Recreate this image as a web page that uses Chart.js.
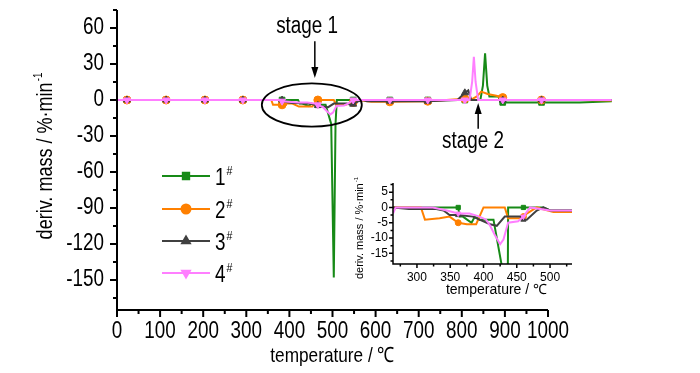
<!DOCTYPE html>
<html>
<head>
<meta charset="utf-8">
<script src="https://cdn.jsdelivr.net/npm/chart.js@4/dist/chart.umd.min.js"></script>
<style>
  html, body { margin: 0; padding: 0; background: #fff; }
  #wrap { position: relative; width: 700px; height: 373px; }
  #main { position: absolute; left: 0; top: 0; }
  #inset { position: absolute; left: 340px; top: 170px; }
</style>
</head>
<body>
<div id="wrap">
  <canvas id="main" width="700" height="373"></canvas>
  <canvas id="inset" width="260" height="130"></canvas>
</div>
<script>
// ---------------- DATA (main panel) ----------------
const seriesNames = ['1', '2', '3', '4'];
const mainMarkerTemps = [23, 114, 204, 292, 383, 466, 548, 633, 721, 807, 895, 985, 1074];

const t1 = [0, 23, 114, 204, 292, 383, 420, 424, 430, 445, 451, 460, 466, 484, 497, 503, 507, 510, 548, 633, 721, 807, 843, 849, 854, 859, 864, 885, 890, 895, 985, 1074, 1148];
const v1 = [0, 0, 0, 0, 0, 0, 0, -3, -3, -5, -3, -4, -4, -4, -20, -148, -20, 0, 0, 0, 0, 0, 0, 12, 39, 12, 3, 3, -2, -2, -2, -2, -1];

const t2 = [0, 23, 114, 204, 292, 358, 362, 383, 390, 392, 407, 422, 453, 466, 503, 509, 530, 548, 560, 590, 633, 721, 807, 820, 835, 845, 860, 880, 895, 900, 985, 1074, 1148];
const v2 = [0, 0, 0, 0, 0, 0, -4, -4, -4, -3, -3, -5.5, -5.5, 0, 0, -4, -4, -2, 0, -1.5, -1.5, -1, 1, 0, 3, 7, 5, 3.5, 2, 0, 0, 0, -0.5];

const t3 = [0, 23, 114, 204, 292, 383, 395, 407, 447, 459, 466, 478, 490, 503, 533, 542, 548, 560, 571, 580, 633, 721, 790, 807, 815, 822, 895, 985, 1074, 1148];
const v3 = [0, 0, 0, 0, 0, 0, -2, -2.5, -3, -4, -4.5, -5.5, -6, -3, -3, -4, -3.5, -1, 0, -1, -1, -1, 0, 6, 8, 0, 0, 0, 0, 0];

const t4 = [0, 23, 114, 204, 292, 378, 383, 420, 442, 459, 466, 478, 486, 495, 501, 509, 527, 536, 548, 633, 721, 807, 818, 824, 828, 832, 838, 895, 985, 1074, 1148];
const v4 = [0, 0, 0, 0, 0, 0, -1, -2, -2, -3, -4, -6, -9, -12, -10.5, -5, -4.5, -3, 0, 0, 0, 0, 0, 15, 36, 15, 0, 0, 0, 0, 0];

const mainXTicks = [0, 100, 200, 300, 400, 500, 600, 700, 800, 900, 1000];
const mainYTicks = [-150, -120, -90, -60, -30, 0, 30, 60];

// ---------------- DATA (inset) ----------------
const insetMarkerTemps = [362, 460];

const ti1 = [264, 355, 362, 364, 369, 382, 387, 394, 415, 427, 431, 434, 437, 460, 490, 500, 533];
const vi1 = [0, 0, 0, -3, -3, -5, -3, -4, -4, -18.5, -148, -148, 0, 0, 0, -1, -1];

const ti2 = [264, 306, 312, 334, 349, 362, 375, 389, 400, 432, 437, 455, 460, 465, 480, 505, 533];
const vi2 = [0, 0, -4, -3.5, -3, -5, -5.5, -5.5, 0, 0, -3.5, -3.5, -3, -2, 0, -1.5, -1.5];

const ti3 = [264, 288, 329, 340, 349, 362, 384, 394, 410, 420, 432, 455, 460, 465, 480, 490, 500, 533];
const vi3 = [0, -0.5, -0.5, -1, -2.5, -2.5, -3, -4, -5.5, -6, -3, -3, -4, -4, -1, 0, -1, -1];

const ti4 = [264, 268, 324, 345, 362, 379, 394, 404, 410, 417, 425, 430, 437, 452, 460, 470, 500, 533];
const vi4 = [-2, 0, 0, -1, -2, -2, -3, -4, -6, -9, -12, -10.5, -5, -4.5, -3, 0, -1, -1];

const insetXTicks = [300, 350, 400, 450, 500];
const insetYTicks = [-15, -10, -5, 0, 5];

// ---------------- STYLE ----------------
const FONT = "'Liberation Sans', Arial, sans-serif";
const SQ = 0.82; // horizontal squeeze to imitate a narrow face on the main panel
const colors = ['#178A17', '#FF8000', '#404040', '#FF7FFF'];
const pStyles = ['rect', 'circle', 'triangle', 'triangle'];
const pRot = [0, 0, 0, 180];
const drawOrder = [4, 3, 2, 1];

const toXY = (t, v) => t.map((x, i) => ({ x: x, y: v[i] }));

function makeSets(ts, vs, markers, r, clip) {
  return ts.map((t, i) => ({
    label: seriesNames[i] + '#',
    data: toXY(t, vs[i]),
    borderColor: colors[i],
    backgroundColor: colors[i],
    pointBackgroundColor: colors[i],
    pointBorderColor: colors[i],
    pointBorderWidth: 1,
    pointStyle: pStyles[i],
    pointRotation: pRot[i],
    pointRadius: ctx => (ctx.raw && markers.includes(ctx.raw.x)) ? r : 0,
    pointHoverRadius: 0,
    borderWidth: 2,
    tension: 0,
    order: drawOrder[i],
    clip: clip
  }));
}

// condensed text rendering on the main canvas (text stays real canvas text)
const mainCanvas = document.getElementById('main');
const mctx = mainCanvas.getContext('2d');
const origFill = mctx.fillText;
mctx.fillText = function (t, x, y, mw) {
  this.save();
  this.translate(x, y);
  this.scale(SQ, 1);
  if (mw === undefined) origFill.call(this, t, 0, 0); else origFill.call(this, t, 0, 0, mw / SQ);
  this.restore();
};

function supText(ctx, x, y, base, sup, size, align, sq) {
  const supSize = Math.round(size * 0.56);
  ctx.font = size + 'px ' + FONT;
  const wb = ctx.measureText(base).width * sq;
  ctx.font = supSize + 'px ' + FONT;
  const ws = ctx.measureText(sup).width * sq;
  const x0 = align === 'center' ? x - (wb + ws + 1) / 2 : x;
  ctx.textAlign = 'left';
  ctx.textBaseline = 'alphabetic';
  ctx.font = size + 'px ' + FONT;
  ctx.fillText(base, x0, y);
  ctx.font = supSize + 'px ' + FONT;
  ctx.fillText(sup, x0 + wb + 1, y - size * 0.45);
}

function drawTicks(ctx, chart, xMajor, xMinor, yMajor, yMinor, lenMaj, lenMin, lw) {
  const xs = chart.scales.x, ys = chart.scales.y, a = chart.chartArea;
  ctx.save();
  ctx.strokeStyle = '#000';
  ctx.lineWidth = lw;
  ctx.beginPath();
  ctx.moveTo(a.left, a.top); ctx.lineTo(a.left, a.bottom); ctx.lineTo(a.right, a.bottom);
  ctx.stroke();
  ctx.beginPath();
  xMajor.forEach(v => { const p = xs.getPixelForValue(v); ctx.moveTo(p, a.bottom); ctx.lineTo(p, a.bottom + lenMaj); });
  xMinor.forEach(v => { const p = xs.getPixelForValue(v); ctx.moveTo(p, a.bottom); ctx.lineTo(p, a.bottom + lenMin); });
  yMajor.forEach(v => { const p = ys.getPixelForValue(v); ctx.moveTo(a.left, p); ctx.lineTo(a.left - lenMaj, p); });
  yMinor.forEach(v => { const p = ys.getPixelForValue(v); ctx.moveTo(a.left, p); ctx.lineTo(a.left - lenMin, p); });
  ctx.stroke();
  ctx.restore();
}

function minorBetween(ticks, step, lo, hi) {
  const out = [];
  for (let v = ticks[0] - step / 2; v <= hi + 1e-9; v += step) if (v >= lo - 1e-9) out.push(v);
  for (let v = ticks[0] - step / 2 - step; v >= lo - 1e-9; v -= step) out.push(v);
  return out.filter(v => !ticks.includes(v));
}

// ---------------- annotations (data units) ----------------
const stage1 = { text: 'stage 1', x: 441, y: 55.8 };
const arrow1 = { x: 459, from: 49, to: 18.3 };
const ellipse1 = { x: 452, y: -4.2, rx: 116, ry: 18 };
const stage2 = { text: 'stage 2', x: 826, y: -40 };
const arrow2 = { x: 838, from: -24, to: -2.5 };

function arrow(ctx, x, y1, y2) {
  const dir = y2 > y1 ? 1 : -1;
  ctx.beginPath();
  ctx.moveTo(x, y1); ctx.lineTo(x, y2 - dir * 8);
  ctx.stroke();
  ctx.beginPath();
  ctx.moveTo(x, y2); ctx.lineTo(x - 3.5, y2 - dir * 11); ctx.lineTo(x + 3.5, y2 - dir * 11);
  ctx.closePath(); ctx.fill();
}

const fixPad = s => { s.paddingTop = 0; s.paddingBottom = 0; s.paddingLeft = 0; s.paddingRight = 0; };

const mainDecor = {
  id: 'mainDecor',
  afterDraw(chart) {
    const ctx = chart.ctx, xs = chart.scales.x, ys = chart.scales.y, a = chart.chartArea;
    drawTicks(ctx, chart, mainXTicks, minorBetween(mainXTicks, 100, 0, 1000), mainYTicks, minorBetween(mainYTicks, 30, -175, 75), 7, 4, 2);
    ctx.save();
    ctx.fillStyle = '#000'; ctx.strokeStyle = '#000';
    // axis titles
    ctx.save();
    ctx.translate(52, (a.top + a.bottom) / 2 - 4);
    ctx.rotate(-Math.PI / 2);
    supText(ctx, 0, 0, 'deriv. mass / %·min', '-1', 22, 'center', SQ);
    ctx.restore();
    ctx.font = '21px ' + FONT; ctx.textAlign = 'center'; ctx.textBaseline = 'alphabetic';
    ctx.fillText('temperature / ℃', (a.left + a.right) / 2, 362);
    // stage annotations
    ctx.font = '23px ' + FONT;
    ctx.fillText(stage1.text, xs.getPixelForValue(stage1.x), ys.getPixelForValue(stage1.y));
    ctx.fillText(stage2.text, xs.getPixelForValue(stage2.x), ys.getPixelForValue(stage2.y));
    ctx.lineWidth = 1.5;
    arrow(ctx, xs.getPixelForValue(arrow1.x), ys.getPixelForValue(arrow1.from), ys.getPixelForValue(arrow1.to));
    arrow(ctx, xs.getPixelForValue(arrow2.x), ys.getPixelForValue(arrow2.from), ys.getPixelForValue(arrow2.to));
    const ecx = xs.getPixelForValue(ellipse1.x), ecy = ys.getPixelForValue(ellipse1.y);
    const erx = xs.getPixelForValue(ellipse1.x + ellipse1.rx) - ecx;
    const ery = ecy - ys.getPixelForValue(ellipse1.y + ellipse1.ry);
    ctx.lineWidth = 1.8;
    ctx.beginPath(); ctx.ellipse(ecx, ecy, erx, ery, 0, 0, Math.PI * 2); ctx.stroke();
    // legend
    const rows = [176, 209, 241, 273];
    for (let i = 0; i < 4; i++) {
      const yy = rows[i];
      ctx.strokeStyle = colors[i]; ctx.lineWidth = 2;
      ctx.beginPath(); ctx.moveTo(162, yy); ctx.lineTo(210, yy); ctx.stroke();
      ctx.fillStyle = colors[i];
      Chart.helpers.drawPoint(ctx, { pointStyle: pStyles[i], rotation: pRot[i], radius: 4.5, borderWidth: 1 }, 186, yy);
      ctx.fill();
      ctx.fillStyle = '#000';
      supText(ctx, 215, yy + 9, seriesNames[i], '#', 23, 'left', SQ);
    }
    ctx.restore();
  }
};

new Chart(mainCanvas, {
  type: 'line',
  data: { datasets: makeSets([t1, t2, t3, t4], [v1, v2, v3, v4], mainMarkerTemps, 4, false) },
  options: {
    responsive: false, animation: false, devicePixelRatio: 1,
    layout: { padding: { left: 0, top: 10, right: 152, bottom: 0 } },
    plugins: { legend: { display: false }, tooltip: { enabled: false } },
    scales: {
      x: {
        type: 'linear', bounds: 'data',
        // range fixed here (not via min/max) so the curves run on past 1000 as in the original
        afterDataLimits: s => { s.min = 0; s.max = 1000; },
        afterBuildTicks: s => { s.ticks = mainXTicks.map(v => ({ value: v })); },
        afterFit: s => { s.height = 63; fixPad(s); },
        grid: { display: false, drawTicks: false }, border: { display: false },
        ticks: { autoSkip: false, maxRotation: 0, padding: 8, color: '#000', font: { family: FONT, size: 23 }, callback: v => String(v) }
      },
      y: {
        type: 'linear', min: -175, max: 75, bounds: 'data',
        afterBuildTicks: s => { s.ticks = mainYTicks.map(v => ({ value: v })); },
        afterFit: s => { s.width = 117; fixPad(s); },
        grid: { display: false, drawTicks: false }, border: { display: false },
        ticks: { autoSkip: false, padding: 13, color: '#000', font: { family: FONT, size: 23 }, callback: v => String(v) }
      }
    }
  },
  plugins: [mainDecor]
});

const insetDecor = {
  id: 'insetDecor',
  afterDraw(chart) {
    const ctx = chart.ctx, a = chart.chartArea;
    drawTicks(ctx, chart, insetXTicks, minorBetween(insetXTicks, 50, 264, 533), insetYTicks, minorBetween(insetYTicks, 5, -18.5, 8), 4, 2.5, 1.5);
    ctx.save();
    ctx.fillStyle = '#000';
    ctx.save();
    ctx.translate(23, 58);
    ctx.rotate(-Math.PI / 2);
    supText(ctx, 0, 0, 'deriv. mass / %·min', '-1', 11, 'center', 1);
    ctx.restore();
    ctx.font = '14px ' + FONT; ctx.textAlign = 'center'; ctx.textBaseline = 'alphabetic';
    ctx.fillText('temperature / ℃', (a.left + a.right) / 2 + 14, 124);
    ctx.restore();
  }
};

new Chart(document.getElementById('inset'), {
  type: 'line',
  data: { datasets: makeSets([ti1, ti2, ti3, ti4], [vi1, vi2, vi3, vi4], insetMarkerTemps, 3, undefined) },
  options: {
    responsive: false, animation: false, devicePixelRatio: 1,
    layout: { padding: { left: 0, top: 13, right: 28, bottom: 0 } },
    plugins: { legend: { display: false }, tooltip: { enabled: false } },
    scales: {
      x: {
        type: 'linear', min: 264, max: 533,
        afterBuildTicks: s => { s.ticks = insetXTicks.map(v => ({ value: v })); },
        afterFit: s => { s.height = 36; fixPad(s); },
        grid: { display: false, drawTicks: false }, border: { display: false },
        ticks: { autoSkip: false, maxRotation: 0, padding: 6, color: '#000', font: { family: FONT, size: 12 }, callback: v => String(v) }
      },
      y: {
        type: 'linear', min: -18.5, max: 8,
        afterBuildTicks: s => { s.ticks = insetYTicks.map(v => ({ value: v })); },
        afterFit: s => { s.width = 53; fixPad(s); },
        grid: { display: false, drawTicks: false }, border: { display: false },
        ticks: { autoSkip: false, padding: 5, color: '#000', font: { family: FONT, size: 12 }, callback: v => String(v) }
      }
    }
  },
  plugins: [insetDecor]
});
</script>
</body>
</html>
